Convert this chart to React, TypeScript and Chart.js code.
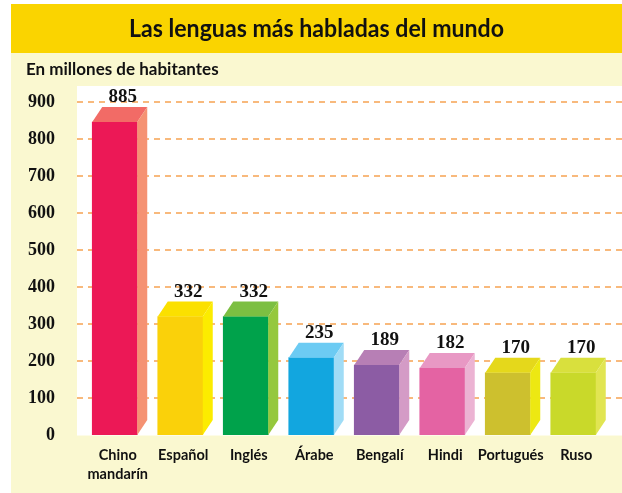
import React, { useEffect, useRef } from 'react';
import { Chart, registerables } from 'chart.js';

Chart.register(...registerables);

// ---- data ----
const categories: (string | string[])[] = [
  ['Chino', 'mandarín'], 'Español', 'Inglés', 'Árabe', 'Bengalí', 'Hindi', 'Portugués', 'Ruso',
];
// heights of the bars as drawn in the picture (front face top)
const barHeights = [846, 320, 320, 209, 189, 181, 168, 168];
// printed value labels
const valueLabels = ['885', '332', '332', '235', '189', '182', '170', '170'];
const yTickValues = [0, 100, 200, 300, 400, 500, 600, 700, 800, 900];

const title = 'Las lenguas más habladas del mundo';
const subtitle = 'En millones de habitantes';

const frontColors = ['#ec1856', '#fad10a', '#00a24b', '#12a6df', '#8c5ca4', '#e463a3', '#cdc02e', '#c9d92a'];
const topColors = ['#f26b66', '#fbe000', '#7cbf42', '#6ccbf3', '#b77fb5', '#e898c4', '#e5d81b', '#d9e03d'];
const sideColors = ['#f59273', '#fcec00', '#95c83d', '#a0dcf6', '#d49bc6', '#ecb3d3', '#ede812', '#e1e552'];

const DX = 10;
const DY = 15;

const framePlugin = {
  id: 'frame',
  beforeDraw(chart: any) {
    const { ctx, chartArea } = chart;
    ctx.save();
    ctx.fillStyle = '#ffffff';
    ctx.fillRect(0, 0, chart.width, chart.height);
    // title bar
    ctx.fillStyle = '#fad400';
    ctx.fillRect(11, 4, chart.width - 11, 49);
    // cream panel
    ctx.fillStyle = '#faf8d0';
    ctx.fillRect(11, 53, chart.width - 11, chart.height - 53);
    // white plot panel
    ctx.fillStyle = '#ffffff';
    ctx.fillRect(chartArea.left - 5, chartArea.top - 16, chart.width - (chartArea.left - 5), chartArea.bottom - chartArea.top + 16.5);
    // title (slightly condensed to match the reference width)
    ctx.fillStyle = '#111111';
    ctx.textAlign = 'center';
    ctx.textBaseline = 'alphabetic';
    ctx.font = 'bold 25px Lato';
    const w = ctx.measureText(title).width;
    const sx = Math.min(1, 375 / w);
    ctx.save();
    ctx.translate(316.5, 37);
    ctx.scale(sx, 1);
    ctx.fillText(title, 0, 0);
    ctx.restore();
    // subtitle
    ctx.textAlign = 'left';
    ctx.font = 'bold 17px Lato';
    ctx.fillText(subtitle, 26, 75);
    ctx.restore();
  },
  beforeDatasetsDraw(chart: any) {
    const { ctx, chartArea } = chart;
    const y = chart.scales.y;
    ctx.save();
    ctx.strokeStyle = '#f8b97c';
    ctx.lineWidth = 2;
    ctx.setLineDash([6, 5]);
    yTickValues.forEach((v) => {
      if (v === 0) return;
      const py = Math.round(y.getPixelForValue(v));
      ctx.beginPath();
      ctx.moveTo(chartArea.left - 5, py);
      ctx.lineTo(chart.width, py);
      ctx.stroke();
    });
    ctx.restore();
  },
  afterDatasetsDraw(chart: any) {
    const { ctx } = chart;
    const meta = chart.getDatasetMeta(0);
    ctx.save();
    meta.data.forEach((bar: any, i: number) => {
      const { x, y, base, width } = bar.getProps(['x', 'y', 'base', 'width'], true);
      const l = x - width / 2;
      const r = x + width / 2;
      // top face
      ctx.fillStyle = topColors[i];
      ctx.beginPath();
      ctx.moveTo(l, y);
      ctx.lineTo(l + DX, y - DY);
      ctx.lineTo(r + DX, y - DY);
      ctx.lineTo(r, y);
      ctx.closePath();
      ctx.fill();
      // side face
      ctx.fillStyle = sideColors[i];
      ctx.beginPath();
      ctx.moveTo(r, y);
      ctx.lineTo(r + DX, y - DY);
      ctx.lineTo(r + DX, base - DY);
      ctx.lineTo(r, base);
      ctx.closePath();
      ctx.fill();
      // value label
      ctx.fillStyle = '#111111';
      ctx.font = 'bold 19px "Liberation Serif"';
      ctx.textAlign = 'center';
      ctx.textBaseline = 'alphabetic';
      ctx.fillText(valueLabels[i], x + 8, y - DY - 5);
    });
    ctx.restore();
  },
};

export default function App() {
  const ref = useRef<HTMLCanvasElement | null>(null);
  useEffect(() => {
    if (!ref.current) return;
    const chart = new Chart(ref.current, {
      type: 'bar',
      data: {
        labels: categories as any,
        datasets: [
          {
            data: barHeights,
            backgroundColor: frontColors,
            borderWidth: 0,
            barThickness: 45,
          },
        ],
      },
      options: {
        responsive: false,
        animation: false,
        devicePixelRatio: 1,
        layout: { padding: { top: 102, left: 0, right: 16, bottom: 0 } },
        plugins: {
          legend: { display: false },
          tooltip: { enabled: false },
        },
        scales: {
          x: {
            grid: { display: false, drawTicks: false },
            border: { display: false },
            ticks: {
              color: '#111111',
              font: { family: 'Lato', weight: 'bold', size: 14.5, lineHeight: 1.3 },
              padding: 11,
              labelOffset: 3,
              maxRotation: 0,
              autoSkip: false,
            },
            afterFit: (s: any) => {
              s.height = 58;
            },
          },
          y: {
            min: 0,
            max: 900,
            grid: { display: false, drawTicks: false },
            border: { display: false },
            ticks: {
              stepSize: 100,
              color: '#111111',
              font: { family: '"Liberation Serif"', weight: 'bold', size: 18 },
              padding: 27,
            },
            afterFit: (s: any) => {
              s.width = 82;
            },
          },
        },
      },
      plugins: [framePlugin],
    });
    return () => chart.destroy();
  }, []);
  return (
    <div style={{ position: 'fixed', left: 0, top: 0, width: 622, height: 493 }}>
      <canvas ref={ref} width={622} height={493} style={{ display: 'block' }} />
    </div>
  );
}
